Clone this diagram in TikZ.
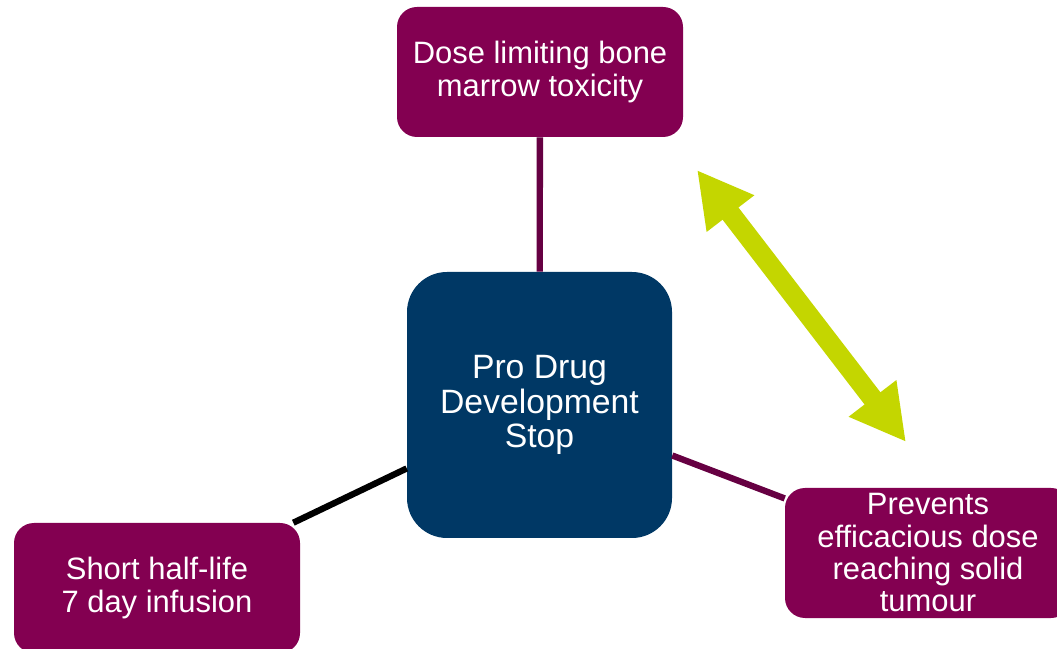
\documentclass[tikz,border=0pt]{standalone}
\usepackage{fontspec}
\setmainfont{Liberation Sans}
\usetikzlibrary{arrows.meta}
\definecolor{mulberryc}{HTML}{830051}
\definecolor{navyc}{HTML}{003865}
\definecolor{limec}{HTML}{C4D600}
\definecolor{linkc}{HTML}{660042}
\tikzset{
  issuenode/.style={rectangle, rounded corners=0.5cm, fill=mulberryc, text=white,
    minimum width=7.15cm, minimum height=3.25cm, inner sep=0pt, align=center,
    font=\fontsize{22}{23}\selectfont},
  stopnode/.style={issuenode, rounded corners=1cm, fill=navyc,
    minimum width=6.625cm, minimum height=6.65cm, font=\fontsize{24}{24.5}\selectfont},
  linkedge/.style={draw=linkc, line width=4.5pt},
  blackedge/.style={draw=black, line width=4.5pt},
  tradeedge/.style={{Triangle[length=1.375cm, width=1.4cm]}-{Triangle[length=1.375cm, width=1.4cm]},
    draw=limec, line width=0.5cm},
}
\begin{document}
\begin{tikzpicture}
  \useasboundingbox (0,0) rectangle (26.425,16.2);
  \node[stopnode] (stop) at (13.4875,6.075) {Pro Drug\\Development\\Stop};
  \node[issuenode] (tox) at (13.5,14.4) {Dose limiting bone\\marrow toxicity};
  \node[issuenode] (half) at (3.925,1.5) {Short half-life\\7 day infusion};
  \node[issuenode] (dose) at (23.2,2.375) {Prevents\\efficacious dose\\reaching solid\\tumour};
  \coordinate (tradeA) at (17.425,11.95);
  \coordinate (tradeB) at (22.65,5.15);
  \draw[linkedge] (stop) -- (tox);
  \draw[blackedge] (stop) -- (half);
  \draw[linkedge] (stop) -- (dose);
  \draw[tradeedge] (tradeA) -- (tradeB);
\end{tikzpicture}
\end{document}
